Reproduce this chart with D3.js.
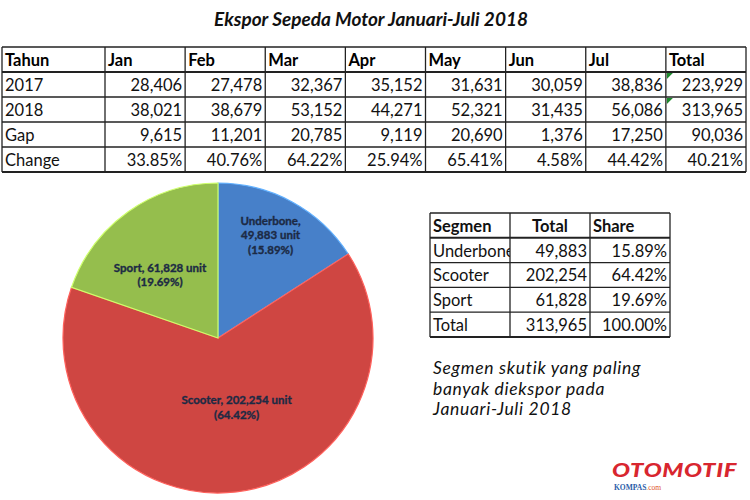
<!DOCTYPE html>
<html>
<head>
<meta charset="utf-8">
<script src="https://cdn.jsdelivr.net/npm/d3@7"></script>
<style>
  body { margin: 0; background: #fff; }
  svg text { font-family: Lato, "Open Sans", sans-serif; }
</style>
</head>
<body>
<div id="chart"></div>
<script>
// Monthly export table
const months = ['Jan', 'Feb', 'Mar', 'Apr', 'May', 'Jun', 'Jul', 'Total']
const rowLabels = ['2017', '2018', 'Gap', 'Change']
const units2017 = [28406, 27478, 32367, 35152, 31631, 30059, 38836, 223929]
const units2018 = [38021, 38679, 53152, 44271, 52321, 31435, 56086, 313965]
const gap = [9615, 11201, 20785, 9119, 20690, 1376, 17250, 90036]
const change = [33.85, 40.76, 64.22, 25.94, 65.41, 4.58, 44.42, 40.21]

// Segment pie + table
const segments = ['Underbone', 'Scooter', 'Sport']
const segmentUnits = [49883, 202254, 61828]
const segmentShare = [15.89, 64.42, 19.69]
const segmentTotal = 313965
const segmentColors = ['#4f8fe0', '#e64e4a', '#a6d356']

const width = 750, height = 500
const fmt = d3.format(',')
const pct = d => d.toFixed(2) + '%'
const cellFont = 16.5

const svg = d3.select('#chart').append('svg')
  .attr('width', width)
  .attr('height', height)

// Title
svg.append('text')
  .attr('x', 371)
  .attr('y', 26)
  .attr('text-anchor', 'middle')
  .attr('font-size', 19)
  .attr('font-weight', 'bold')
  .attr('font-style', 'italic')
  .attr('fill', '#111')
  .text('Ekspor Sepeda Motor Januari-Juli 2018')

// ---- Top table ----
const topRows = ['head'].concat(rowLabels)
const rowY = d3.scaleBand().domain(topRows).range([47, 172])
const colX = d3.scaleBand().domain(months).range([105, 746])
const firstCol = [2, 105]

const topValues = {
  '2017': units2017.map(fmt),
  '2018': units2018.map(fmt),
  'Gap': gap.map(fmt),
  'Change': change.map(pct),
}

const tbl = svg.append('g').attr('class', 'top-table')

// header
tbl.append('text')
  .attr('x', firstCol[0] + 3)
  .attr('y', rowY('head') + rowY.bandwidth() - 6)
  .attr('font-size', cellFont)
  .attr('font-weight', 'bold')
  .text('Tahun')

tbl.selectAll('.head')
  .data(months)
  .join('text')
  .attr('class', 'head')
  .attr('x', d => colX(d) + 3)
  .attr('y', rowY('head') + rowY.bandwidth() - 6)
  .attr('font-size', cellFont)
  .attr('font-weight', 'bold')
  .text(d => d)

rowLabels.forEach(r => {
  tbl.append('text')
    .attr('x', firstCol[0] + 3)
    .attr('y', rowY(r) + rowY.bandwidth() - 6)
    .attr('font-size', cellFont)
    .attr('fill', '#111')
    .text(r)

  tbl.selectAll('.v' + r)
    .data(topValues[r])
    .join('text')
    .attr('class', 'v' + r)
    .attr('x', (d, i) => colX(months[i]) + colX.bandwidth() - 3)
    .attr('y', rowY(r) + rowY.bandwidth() - 6)
    .attr('text-anchor', 'end')
    .attr('font-size', cellFont)
    .attr('fill', '#111')
    .text(d => d)
})

// green excel indicators on Total cells
;['2017', '2018'].forEach(r => {
  const x0 = colX('Total') + 1, y0 = rowY(r) + 1
  tbl.append('path')
    .attr('d', `M${x0},${y0}h6l-6,6z`)
    .attr('fill', '#1e8a2e')
})

// grid lines
const vLines = [firstCol[0]].concat(months.map(m => colX(m)), [colX.range()[1]])
tbl.selectAll('.vl')
  .data(vLines)
  .join('line')
  .attr('x1', d => d).attr('x2', d => d)
  .attr('y1', rowY.range()[0]).attr('y2', rowY.range()[1])
  .attr('stroke', '#222').attr('stroke-width', 1.3)

const hLines = topRows.map(r => rowY(r)).concat([rowY.range()[1]])
tbl.selectAll('.hl')
  .data(hLines)
  .join('line')
  .attr('x1', firstCol[0]).attr('x2', colX.range()[1])
  .attr('y1', d => d).attr('y2', d => d)
  .attr('stroke', '#222')
  .attr('stroke-width', (d, i) => (i === 1 || i === hLines.length - 1) ? 2 : 1.3)

// ---- Pie ----
const cx = 218, cy = 338, R = 155
const defs = svg.append('defs')
segmentColors.forEach((c, i) => {
  const g = defs.append('radialGradient')
    .attr('id', 'grad' + i)
    .attr('gradientUnits', 'userSpaceOnUse')
    .attr('cx', cx).attr('cy', cy).attr('r', R)
  g.append('stop').attr('offset', '0%').attr('stop-color', d3.color(c).brighter(0.2))
  g.append('stop').attr('offset', '92%').attr('stop-color', c)
  g.append('stop').attr('offset', '100%').attr('stop-color', d3.color(c).darker(0.3))
})

const pie = d3.pie().sort(null).value(d => d.units)
const pieData = pie(segments.map((s, i) => ({ name: s, units: segmentUnits[i], share: segmentShare[i], i })))
const arc = d3.arc().innerRadius(0).outerRadius(R)

const pg = svg.append('g').attr('transform', `translate(${cx},${cy})`)
pg.selectAll('path')
  .data(pieData)
  .join('path')
  .attr('d', arc)
  .attr('fill', d => `url(#grad${d.data.i})`)
  .attr('stroke', d => d3.color(segmentColors[d.data.i]).brighter(0.6))
  .attr('stroke-width', 1.2)

const labelR = { Underbone: 114, Scooter: 72, Sport: 100 }
const labelShift = { Underbone: [-2, -13], Scooter: [10, -5], Sport: [0, 15] }
const labelLines = d => {
  const u = fmt(d.data.units) + ' unit'
  const p = '(' + pct(d.data.share) + ')'
  if (d.data.name === 'Underbone') return ['Underbone,', u, p]
  if (d.data.name === 'Scooter') return ['Scooter,  ' + u, p]
  return [d.data.name + ', ' + u, p]
}

pg.selectAll('.plabel')
  .data(pieData)
  .join('text')
  .attr('class', 'plabel')
  .attr('transform', d => {
    const a = (d.startAngle + d.endAngle) / 2
    const r = labelR[d.data.name], s = labelShift[d.data.name]
    return `translate(${Math.sin(a) * r + s[0]},${-Math.cos(a) * r + s[1]})`
  })
  .attr('text-anchor', 'middle')
  .attr('font-size', 11.5)
  .attr('font-weight', 'bold')
  .attr('fill', '#1c2a44')
  .attr('stroke', '#1c2a44')
  .attr('stroke-width', 0.35)
  .each(function (d) {
    d3.select(this).selectAll('tspan')
      .data(labelLines(d))
      .join('tspan')
      .attr('x', 0)
      .attr('dy', (t, j) => j === 0 ? 0 : 14.5)
      .text(t => t)
  })

// ---- Segment table ----
const segCols = ['Segmen', 'Total', 'Share']
const segRows = ['head'].concat(segments, ['Total'])
const sx = d3.scaleBand().domain(segCols).range([430, 670])
const sy = d3.scaleBand().domain(segRows).range([213, 337])

const seg = svg.append('g').attr('class', 'seg-table')
seg.append('clipPath').attr('id', 'clipSeg')
  .append('rect')
  .attr('x', sx('Segmen')).attr('y', sy.range()[0])
  .attr('width', sx.bandwidth()).attr('height', sy.range()[1] - sy.range()[0])

const segCells = []
segCols.forEach((c, ci) => segCells.push({ row: 'head', col: c, text: c, bold: true, anchor: ci === 1 ? 'middle' : 'start' }))
segments.forEach((s, i) => {
  segCells.push({ row: s, col: 'Segmen', text: s, anchor: 'start' })
  segCells.push({ row: s, col: 'Total', text: fmt(segmentUnits[i]), anchor: 'end' })
  segCells.push({ row: s, col: 'Share', text: pct(segmentShare[i]), anchor: 'end' })
})
segCells.push({ row: 'Total', col: 'Segmen', text: 'Total', anchor: 'start' })
segCells.push({ row: 'Total', col: 'Total', text: fmt(segmentTotal), anchor: 'end' })
segCells.push({ row: 'Total', col: 'Share', text: pct(d3.sum(segmentShare)), anchor: 'end' })

seg.selectAll('text')
  .data(segCells)
  .join('text')
  .attr('x', d => d.anchor === 'start' ? sx(d.col) + 3 : d.anchor === 'middle' ? sx(d.col) + sx.bandwidth() / 2 : sx(d.col) + sx.bandwidth() - 3)
  .attr('y', d => sy(d.row) + sy.bandwidth() - 6)
  .attr('text-anchor', d => d.anchor)
  .attr('font-size', cellFont)
  .attr('font-weight', d => d.bold ? 'bold' : null)
  .attr('fill', '#111')
  .attr('clip-path', d => d.col === 'Segmen' ? 'url(#clipSeg)' : null)
  .text(d => d.text)

const segV = segCols.map(c => sx(c)).concat([sx.range()[1]])
seg.selectAll('.vl')
  .data(segV)
  .join('line')
  .attr('x1', d => d).attr('x2', d => d)
  .attr('y1', sy.range()[0]).attr('y2', sy.range()[1])
  .attr('stroke', '#222').attr('stroke-width', 1.3)

const segH = segRows.map(r => sy(r)).concat([sy.range()[1]])
seg.selectAll('.hl')
  .data(segH)
  .join('line')
  .attr('x1', sx.range()[0]).attr('x2', sx.range()[1])
  .attr('y1', d => d).attr('y2', d => d)
  .attr('stroke', '#222')
  .attr('stroke-width', (d, i) => (i === 1 || i === segH.length - 1) ? 2 : 1.3)

// ---- Note ----
const note = ['Segmen skutik yang paling', 'banyak diekspor pada', 'Januari-Juli 2018']
svg.selectAll('.note')
  .data(note)
  .join('text')
  .attr('class', 'note')
  .attr('x', 433)
  .attr('y', (d, i) => 374 + i * 20.5)
  .attr('font-size', 17.5)
  .attr('letter-spacing', 0.7)
  .attr('font-style', 'italic')
  .attr('fill', '#111')
  .text(d => d)

// ---- Logo ----
svg.append('text')
  .attr('x', 612)
  .attr('y', 477)
  .attr('font-size', 19)
  .attr('font-weight', 900)
  .attr('font-style', 'italic')
  .attr('fill', '#d8262f')
  .attr('letter-spacing', 0.5)
  .attr('textLength', 125)
  .attr('lengthAdjust', 'spacingAndGlyphs')
  .text('OTOMOTIF')

const k = svg.append('text')
  .attr('x', 614)
  .attr('y', 490)
  .attr('font-size', 7.5)
  .style('font-family', '"Liberation Serif", serif')
  .attr('font-weight', 'bold')
k.append('tspan').attr('fill', '#2a5ca8').text('KOMPAS')
k.append('tspan').attr('fill', '#e0552a').attr('font-weight', 'normal').text('.com')
</script>
</body>
</html>
